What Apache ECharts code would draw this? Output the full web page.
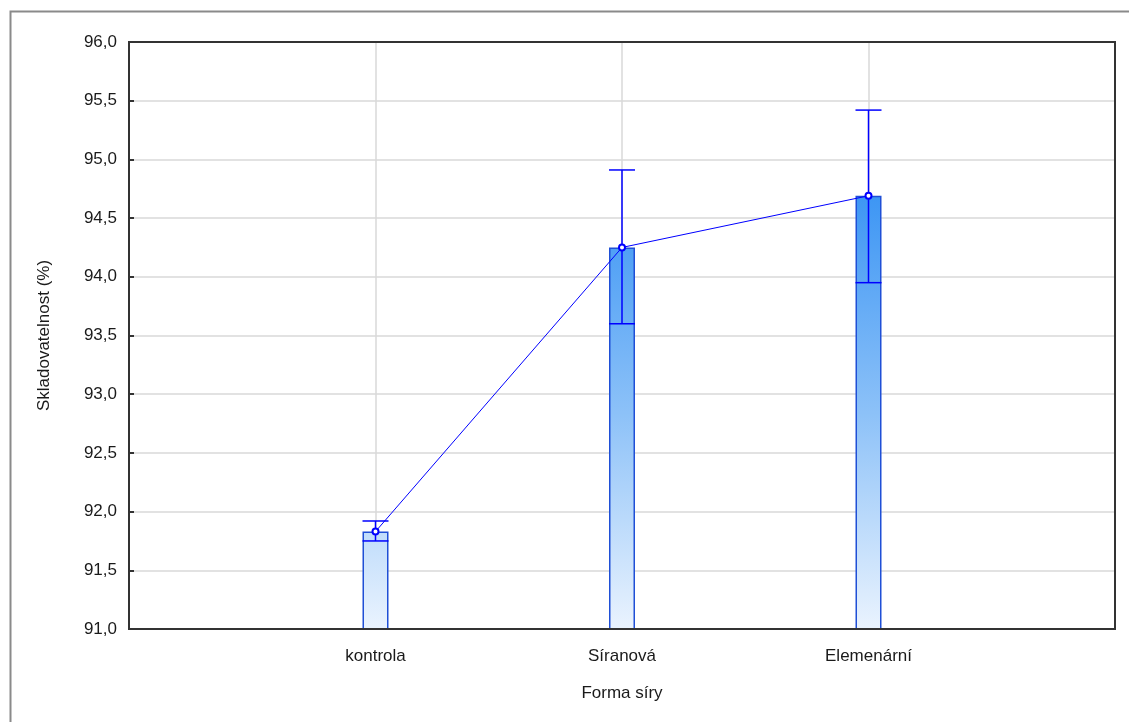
<!DOCTYPE html>
<html>
<head>
<meta charset="utf-8">
<script src="https://cdn.jsdelivr.net/npm/echarts@6/dist/echarts.min.js"></script>
<style>
html,body{margin:0;padding:0;background:#fff;}
#chart{width:1129px;height:722px;}
</style>
</head>
<body>
<div id="chart"></div>
<script>
// Data
const categories = ['', 'kontrola', 'Síranová', 'Elemenární', ''];
const means = [null, 91.83, 94.25, 94.69, null];
const lowerErr = [null, 91.75, 93.60, 93.95, null];
const upperErr = [null, 91.92, 94.91, 95.42, null];
const yTicks = ['91,0','91,5','92,0','92,5','93,0','93,5','94,0','94,5','95,0','95,5','96,0'];

const FONT = 'Liberation Sans, Arial, sans-serif';
const TXT = '#1a1a1a';
const BLUE = '#0000ff';

const errData = [];
for (let i = 0; i < categories.length; i++) {
  if (means[i] != null) errData.push([i, lowerErr[i], upperErr[i]]);
}

const chart = echarts.init(document.getElementById('chart'), null, {renderer: 'canvas'});
chart.setOption({
  animation: false,
  backgroundColor: '#fff',
  graphic: [{
    type: 'rect', left: 8, top: 9, z: 100,
    shape: {x: 0, y: 0, width: 1200, height: 800},
    style: {fill: 'none', stroke: '#8a8a8a', lineWidth: 2}
  }],
  grid: {left: 129, top: 42, right: 14, bottom: 93, show: true, borderColor: '#333', borderWidth: 2, backgroundColor: 'transparent', z: 10},
  xAxis: {
    type: 'category',
    data: categories,
    boundaryGap: false,
    name: 'Forma síry',
    nameLocation: 'middle',
    nameGap: 56,
    nameTextStyle: {fontFamily: FONT, fontSize: 17, color: TXT},
    axisLine: {show: false},
    axisTick: {show: true, inside: true, length: 5, lineStyle: {color: '#333', width: 2}, alignWithLabel: true},
    axisLabel: {fontFamily: FONT, fontSize: 17, color: TXT, margin: 19, interval: 0},
    splitLine: {show: true, lineStyle: {color: '#d9d9d9', width: 1.5}}
  },
  yAxis: {
    type: 'value',
    min: 91, max: 96, interval: 0.5,
    name: 'Skladovatelnost (%)',
    nameLocation: 'middle',
    nameGap: 76,
    nameRotate: 90,
    nameTextStyle: {fontFamily: FONT, fontSize: 17, color: TXT},
    axisLine: {show: false},
    axisTick: {show: true, inside: true, length: 5, lineStyle: {color: '#333', width: 2}},
    axisLabel: {fontFamily: FONT, fontSize: 17, color: TXT, margin: 12,
      formatter: function (v) { const idx = Math.round((v - 91) / 0.5); return yTicks[idx]; }},
    splitLine: {show: true, lineStyle: {color: '#d9d9d9', width: 1.5}}
  },
  series: [
    {
      type: 'bar',
      data: means,
      barWidth: 26,
      z: 2,
      itemStyle: {
        borderColor: '#1f4fd6',
        borderWidth: 1.5,
        color: new echarts.graphic.LinearGradient(0, 196, 0, 629, [
          {offset: 0, color: '#3d96f4'},
          {offset: 0.5, color: '#8cc1f8'},
          {offset: 1, color: '#eaf3fe'}
        ], true)
      }
    },
    {
      type: 'custom',
      z: 4,
      data: errData,
      renderItem: function (params, api) {
        const x = api.value(0);
        const lo = api.coord([x, api.value(1)]);
        const hi = api.coord([x, api.value(2)]);
        const hw = 13;
        const st = {stroke: BLUE, lineWidth: 1.5};
        return {
          type: 'group',
          children: [
            {type: 'line', shape: {x1: hi[0], y1: hi[1], x2: lo[0], y2: lo[1]}, style: st},
            {type: 'line', shape: {x1: hi[0] - hw, y1: hi[1], x2: hi[0] + hw, y2: hi[1]}, style: st},
            {type: 'line', shape: {x1: lo[0] - hw, y1: lo[1], x2: lo[0] + hw, y2: lo[1]}, style: st}
          ]
        };
      }
    },
    {
      type: 'line',
      data: means,
      z: 5,
      symbol: 'emptyCircle',
      symbolSize: 6,
      lineStyle: {color: BLUE, width: 1},
      itemStyle: {color: BLUE, borderColor: BLUE, borderWidth: 1}
    }
  ]
});
</script>
</body>
</html>
